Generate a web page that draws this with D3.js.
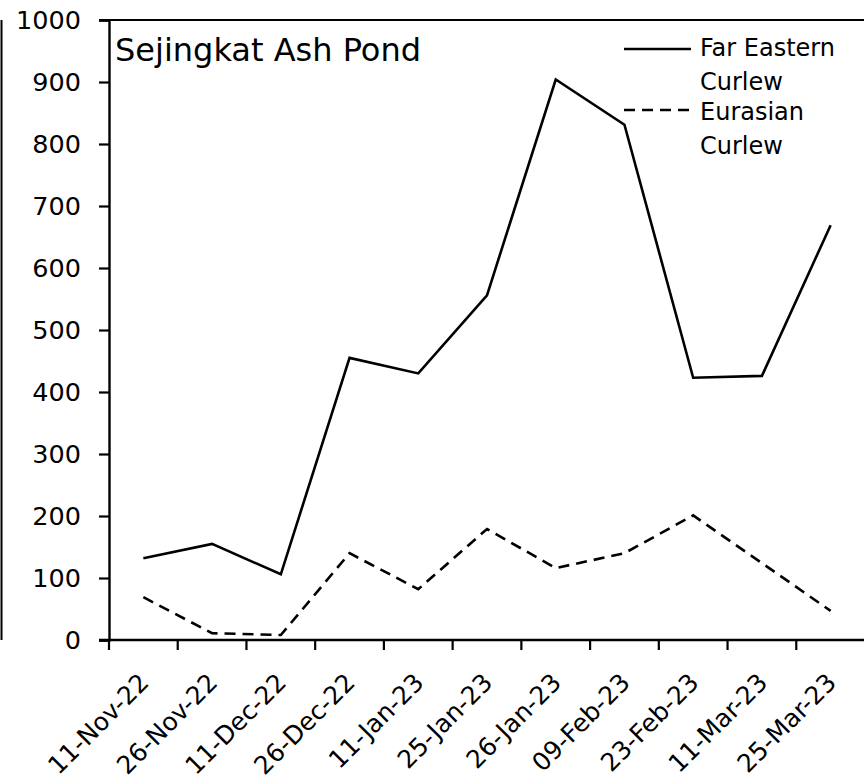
<!DOCTYPE html>
<html>
<head>
<meta charset="utf-8">
<script src="https://cdn.jsdelivr.net/npm/d3@7"></script>
<style>
  html, body { margin: 0; padding: 0; background: #fff; }
  svg { display: block; }
  text { font-family: "DejaVu Sans", "Liberation Sans", sans-serif; fill: #000; }
</style>
</head>
<body>
<svg id="chart" width="864" height="781"></svg>
<script>
const title = "Sejingkat Ash Pond";
const categories = ["11-Nov-22","26-Nov-22","11-Dec-22","26-Dec-22","11-Jan-23","25-Jan-23","26-Jan-23","09-Feb-23","23-Feb-23","11-Mar-23","25-Mar-23"];
const farEastern = [132, 155, 106, 455, 430, 556, 904, 831, 423, 426, 669];
const eurasian   = [69, 11, 8, 140, 82, 179, 116, 140, 201, 124, 47];
const seriesNames = ["Far Eastern Curlew", "Eurasian Curlew"];
const legendLines = [["Far Eastern", "Curlew"], ["Eurasian", "Curlew"]];
const yTicks = [0,100,200,300,400,500,600,700,800,900,1000];

const svg = d3.select("#chart");
const mLeft = 109, mRight = 865, mTop = 20, mBottom = 640;

const x = d3.scaleBand().domain(categories).range([mLeft, mRight]).padding(0);
const y = d3.scaleLinear().domain([0, 1000]).range([mBottom, mTop]);

// left edge border line
svg.append("line").attr("x1", 1.5).attr("x2", 1.5).attr("y1", mTop).attr("y2", mBottom)
  .attr("stroke", "#000").attr("stroke-width", 2);
// top border line
svg.append("line").attr("x1", mLeft - 10).attr("x2", 864).attr("y1", mTop).attr("y2", mTop)
  .attr("stroke", "#000").attr("stroke-width", 2);

// Y axis
const yAxis = svg.append("g").attr("transform", `translate(${mLeft},0)`)
  .call(d3.axisLeft(y).tickValues(yTicks).tickSize(10).tickPadding(18).tickFormat(d3.format("d")));
yAxis.select(".domain").attr("stroke", "#000").attr("stroke-width", 2.4);
yAxis.selectAll(".tick line").attr("stroke", "#000").attr("stroke-width", 2.2);
yAxis.selectAll(".tick text").attr("font-size", 25.5).attr("font-family", "DejaVu Sans").attr("fill", "#000");

// X axis line
svg.append("line").attr("x1", mLeft - 10).attr("x2", 864).attr("y1", mBottom).attr("y2", mBottom)
  .attr("stroke", "#000").attr("stroke-width", 2.4);
// boundary ticks
const bounds = categories.map(c => x(c));
svg.selectAll(".xtick").data(bounds).enter().append("line")
  .attr("x1", d => d).attr("x2", d => d).attr("y1", mBottom).attr("y2", mBottom + 10)
  .attr("stroke", "#000").attr("stroke-width", 2.2);
// labels
svg.selectAll(".xlab").data(categories).enter().append("text")
  .attr("transform", d => `translate(${x(d) + x.bandwidth()/2 + 7},${mBottom + 44}) rotate(-45)`)
  .attr("text-anchor", "end")
  .attr("font-size", 25)
  .text(d => d);

// lines
const line = d3.line().x((d, i) => x(categories[i]) + x.bandwidth()/2).y(d => y(d));
svg.append("path").datum(farEastern).attr("d", line)
  .attr("fill", "none").attr("stroke", "#000").attr("stroke-width", 2.6).attr("stroke-linejoin", "miter");
svg.append("path").datum(eurasian).attr("d", line)
  .attr("fill", "none").attr("stroke", "#000").attr("stroke-width", 2.6).attr("stroke-dasharray", "11,7");

// title
svg.append("text").attr("x", 115).attr("y", 61).attr("font-size", 32).text(title);

// legend
const lg = svg.append("g");
lg.append("line").attr("x1", 624).attr("x2", 691).attr("y1", 49).attr("y2", 49)
  .attr("stroke", "#000").attr("stroke-width", 2.4);
lg.append("line").attr("x1", 624).attr("x2", 691).attr("y1", 110).attr("y2", 110)
  .attr("stroke", "#000").attr("stroke-width", 2.4).attr("stroke-dasharray", "11,7");
const lBase = [[56, 90], [120, 154]];
legendLines.forEach((ls, i) => {
  ls.forEach((t, j) => {
    lg.append("text").attr("x", 700).attr("y", lBase[i][j]).attr("font-size", 24).text(t);
  });
});
</script>
</body>
</html>
